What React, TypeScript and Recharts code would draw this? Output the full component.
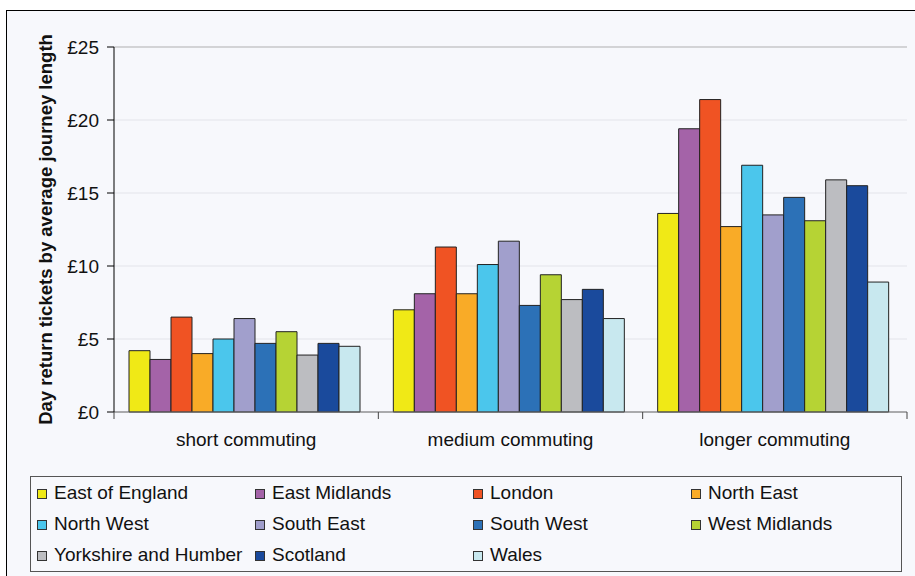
import { BarChart, Bar, XAxis, YAxis, CartesianGrid, Legend, ReferenceLine, Label } from "recharts";

// journey-length bands on the category axis
const categories = ["short commuting", "medium commuting", "longer commuting"];

// average day return fare (£) per region, one value per band
const eastOfEngland = [4.2, 7.0, 13.6];
const eastMidlands = [3.6, 8.1, 19.4];
const london = [6.5, 11.3, 21.4];
const northEast = [4.0, 8.1, 12.7];
const northWest = [5.0, 10.1, 16.9];
const southEast = [6.4, 11.7, 13.5];
const southWest = [4.7, 7.3, 14.7];
const westMidlands = [5.5, 9.4, 13.1];
const yorkshire = [3.9, 7.7, 15.9];
const scotland = [4.7, 8.4, 15.5];
const wales = [4.5, 6.4, 8.9];

const yTicks = [0, 5, 10, 15, 20, 25];

const series = [
  { name: "East of England", values: eastOfEngland },
  { name: "East Midlands", values: eastMidlands },
  { name: "London", values: london },
  { name: "North East", values: northEast },
  { name: "North West", values: northWest },
  { name: "South East", values: southEast },
  { name: "South West", values: southWest },
  { name: "West Midlands", values: westMidlands },
  { name: "Yorkshire and Humber", values: yorkshire },
  { name: "Scotland", values: scotland },
  { name: "Wales", values: wales },
];

const palette = [
  "#f0e916",
  "#a463a8",
  "#f05323",
  "#f9ab27",
  "#4bc6ec",
  "#a19fcc",
  "#2c71b7",
  "#b6d334",
  "#bcbdc1",
  "#1a4a9c",
  "#c8e8ef",
];

const data = categories.map((category, i) => {
  const row: Record<string, string | number> = { category };
  series.forEach((s) => {
    row[s.name] = s.values[i];
  });
  return row;
});

const FONT = "'Liberation Sans', Arial, sans-serif";
const WIDTH = 915;
const HEIGHT = 576;
const PLOT_LEFT = 114;
const PLOT_RIGHT = 8;
const BAND = (WIDTH - PLOT_LEFT - PLOT_RIGHT) / categories.length;

// category label plus boundary tick marks between the groups
const CategoryTick = (props: any) => {
  const { x, y, payload, index } = props;
  const half = BAND / 2;
  return (
    <g>
      <line x1={x - half} x2={x - half} y1={y} y2={y + 7} stroke="#444" />
      {index === categories.length - 1 && (
        <line x1={x + half} x2={x + half} y1={y} y2={y + 7} stroke="#444" />
      )}
      <text x={x} y={y + 34} textAnchor="middle" fill="#111" fontSize={19} fontFamily={FONT}>
        {payload.value}
      </text>
    </g>
  );
};

const renderYTitle = (props: any) => {
  const { viewBox } = props;
  const cx = viewBox.x + 45;
  const cy = viewBox.y + viewBox.height / 2;
  return (
    <text
      x={cx}
      y={cy}
      transform={`rotate(-90, ${cx}, ${cy})`}
      textAnchor="middle"
      dominantBaseline="central"
      fontWeight="bold"
      fontSize={18.5}
      fill="#111"
      fontFamily={FONT}
    >
      Day return tickets by average journey length
    </text>
  );
};

// legend keeps the series order, four entries per row
const renderLegend = () => (
  <div
    style={{
      width: 872,
      height: 96,
      boxSizing: "border-box",
      border: "1px solid #555",
      paddingLeft: 6,
      display: "grid",
      gridTemplateColumns: "repeat(4, 218px)",
      gridAutoRows: 31,
      fontFamily: FONT,
      fontSize: 19,
      color: "#111",
    }}
  >
    {series.map((s, i) => (
      <div key={s.name} style={{ display: "flex", alignItems: "center", whiteSpace: "nowrap" }}>
        <span
          style={{
            width: 10,
            height: 10,
            flex: "none",
            boxSizing: "border-box",
            background: palette[i],
            border: "1px solid #333",
            marginRight: 7,
            marginTop: 2,
          }}
        />
        <span>{s.name}</span>
      </div>
    ))}
  </div>
);

export default function App() {
  return (
    <div
      style={{
        position: "absolute",
        left: 0,
        top: 0,
        width: WIDTH,
        height: HEIGHT,
        overflow: "hidden",
        background: "#fff",
      }}
    >
      <div
        style={{
          position: "absolute",
          left: 6,
          top: 10,
          width: 930,
          height: 600,
          border: "1.5px solid #000",
          background: "#f7f8fc",
        }}
      />
      <div style={{ position: "absolute", left: 0, top: 0 }}>
        <BarChart
          width={WIDTH}
          height={HEIGHT}
          data={data}
          margin={{ top: 47, right: PLOT_RIGHT, left: 0, bottom: 104 }}
          barCategoryGap={15}
          barGap={0}
          style={{ fontFamily: FONT }}
        >
          <CartesianGrid vertical={false} stroke="#e3e4ea" />
          <XAxis
            dataKey="category"
            height={60}
            axisLine={{ stroke: "#666" }}
            tickLine={false}
            tickSize={0}
            tickMargin={0}
            tick={CategoryTick}
          />
          <YAxis
            width={PLOT_LEFT}
            domain={[0, 25]}
            ticks={yTicks}
            interval={0}
            tickFormatter={(v: number) => `£${v}`}
            axisLine={{ stroke: "#000" }}
            tickLine={{ stroke: "#000" }}
            tickSize={7}
            tickMargin={8}
            tick={{ fill: "#111", fontSize: 19, fontFamily: FONT }}
          >
            <Label content={renderYTitle} />
          </YAxis>
          <YAxis yAxisId="frame" orientation="right" width={0} tick={false} tickLine={false} axisLine={{ stroke: "#b9b9b9" }} />
          <ReferenceLine y={25} stroke="#b9b9b9" />
          {series.map((s, i) => (
            <Bar
              key={s.name}
              dataKey={s.name}
              fill={palette[i]}
              stroke="#222"
              strokeWidth={1}
              isAnimationActive={false}
            />
          ))}
          <Legend
            layout="vertical"
            align="center"
            verticalAlign="middle"
            content={renderLegend}
            wrapperStyle={{ left: 30, top: 476, width: 872, height: 96 }}
          />
        </BarChart>
      </div>
    </div>
  );
}
